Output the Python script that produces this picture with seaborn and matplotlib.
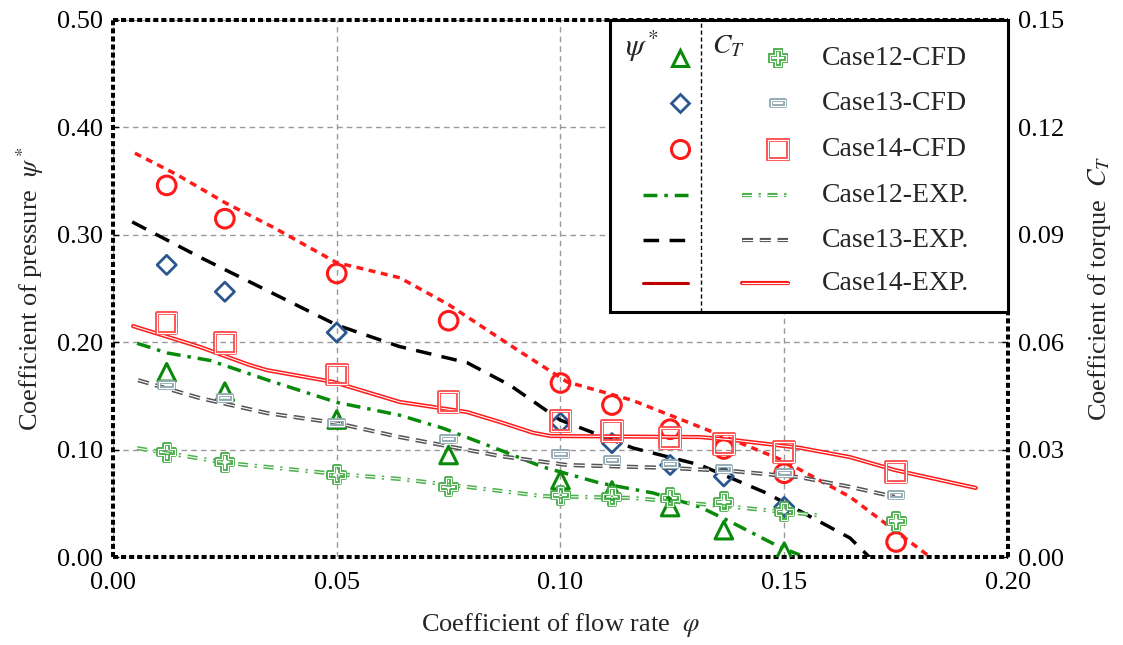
import numpy as np
import pandas as pd
import seaborn as sns
import matplotlib
matplotlib.use("Agg")
import matplotlib.pyplot as plt
import matplotlib.patheffects as pe
from matplotlib.path import Path
from matplotlib.patches import Rectangle
from matplotlib.lines import Line2D

# ---------------- data ----------------
phi_cfd = [0.012, 0.025, 0.05, 0.075, 0.10, 0.1115, 0.1245, 0.1365, 0.15, 0.175]

psi12_cfd = [0.172, 0.154, 0.128, 0.095, 0.0717, 0.062, 0.0465, 0.025, 0.005]
psi13_phi = [0.012, 0.025, 0.05, 0.10, 0.1115, 0.1245, 0.1365, 0.15]
psi13_cfd = [0.272, 0.247, 0.209, 0.125, 0.106, 0.0857, 0.075, 0.0466]
psi14_cfd = [0.346, 0.315, 0.264, 0.220, 0.162, 0.1415, 0.119, 0.1006, 0.078, 0.014]

ct12_cfd = [0.0293, 0.0265, 0.023, 0.0196, 0.0173, 0.0168, 0.0165, 0.0154, 0.0126, 0.010]
ct13_cfd = [0.048, 0.0445, 0.0375, 0.033, 0.0288, 0.0271, 0.026, 0.0246, 0.0235, 0.0173]
ct14_cfd = [0.0654, 0.0598, 0.051, 0.0433, 0.038, 0.0352, 0.0332, 0.0316, 0.0293, 0.0237]

psi12_exp_phi = [0.0054, 0.0121, 0.0217, 0.0344, 0.050, 0.0641, 0.0737, 0.0865, 0.0961,
                 0.1088, 0.1207, 0.1312, 0.1385, 0.149, 0.1535]
psi12_exp = [0.199, 0.190, 0.183, 0.165, 0.144, 0.132, 0.120, 0.0996, 0.0838,
             0.0689, 0.0596, 0.0466, 0.0317, 0.0093, 0.0019]

psi13_exp_phi = [0.0043, 0.0195, 0.05, 0.064, 0.0791, 0.0887, 0.0999, 0.1162, 0.1312,
                 0.146, 0.1647, 0.169]
psi13_exp = [0.312, 0.279, 0.216, 0.196, 0.181, 0.160, 0.1276, 0.1015, 0.0857,
             0.0596, 0.0177, 0.0]

psi14_exp_phi = [0.0049, 0.0143, 0.025, 0.0358, 0.050, 0.0552, 0.0641, 0.075, 0.0903,
                 0.1015, 0.116, 0.1385, 0.1497, 0.1647, 0.1826]
psi14_exp = [0.376, 0.356, 0.330, 0.307, 0.274, 0.269, 0.260, 0.235, 0.193,
             0.163, 0.146, 0.109, 0.090, 0.056, 0.0]

ct12_exp_phi = [0.0054, 0.0253, 0.05, 0.0641, 0.0791, 0.0961, 0.1162, 0.1385, 0.1573]
ct12_exp = [0.0304, 0.0263, 0.0232, 0.0218, 0.0196, 0.0170, 0.0165, 0.0140, 0.0117]

ct13_exp_phi = [0.0056, 0.0194, 0.0344, 0.05, 0.0641, 0.0865, 0.1015, 0.1238, 0.1385,
                0.1535, 0.1647, 0.1747]
ct13_exp = [0.0494, 0.0444, 0.0402, 0.0374, 0.0335, 0.0282, 0.0257, 0.0249, 0.0240,
            0.0223, 0.0196, 0.0168]

ct14_exp_phi = [0.0045, 0.0194, 0.0306, 0.0344, 0.0492, 0.0641, 0.0791, 0.0865, 0.0939,
                0.0977, 0.1312, 0.1385, 0.1535, 0.1647, 0.1747, 0.1928]
ct14_exp = [0.0645, 0.0587, 0.0536, 0.0522, 0.0489, 0.0433, 0.0405, 0.0377, 0.0347,
            0.0338, 0.0335, 0.0327, 0.0305, 0.0279, 0.0243, 0.0193]

x_ticks = [0.00, 0.05, 0.10, 0.15, 0.20]
psi_ticks = [0.0, 0.1, 0.2, 0.3, 0.4, 0.5]
ct_ticks = [0.0, 0.03, 0.06, 0.09, 0.12, 0.15]
legend_labels = ["Case12-CFD", "Case13-CFD", "Case14-CFD",
                 "Case12-EXP.", "Case13-EXP.", "Case14-EXP."]

# ---------------- style ----------------
sns.set_theme(style="white")
plt.rcParams["font.family"] = ["Liberation Serif", "DejaVu Serif"]
plt.rcParams["mathtext.fontset"] = "stix"

fig = plt.figure(figsize=(11.23, 6.45), dpi=100)
ax = fig.add_axes([0.1006, 0.1364, 0.797, 0.8326])
ax2 = ax.twinx()

GREEN = "#0a8a0a"
LGREEN = "#4cb04c"
BLUE = "#2b5690"
RED = "#ff1a1a"
LRED = "#ff5050"
GRAY13 = "#93aab3"


def dbl(color, outer=2.8, inner=0.8):
    return [pe.Stroke(linewidth=outer, foreground=color), pe.Stroke(linewidth=inner, foreground="white")]


rect_marker = Path([(-1, -0.42), (1, -0.42), (1, 0.42), (-1, 0.42), (-1, -0.42)],
                   [Path.MOVETO, Path.LINETO, Path.LINETO, Path.LINETO, Path.CLOSEPOLY])

# ---------------- lines ----------------
sns.lineplot(x=psi12_exp_phi, y=psi12_exp, ax=ax, color=GREEN, lw=2.5,
             linestyle=(0, (4, 2, 1, 2)), sort=False, estimator=None)
sns.lineplot(x=psi13_exp_phi, y=psi13_exp, ax=ax, color="black", lw=2.5,
             linestyle=(0, (4.5, 3)), sort=False, estimator=None)
sns.lineplot(x=psi14_exp_phi, y=psi14_exp, ax=ax, color=RED, lw=2.5,
             linestyle=(0, (2, 1.6)), sort=False, estimator=None)

sns.lineplot(x=ct12_exp_phi, y=ct12_exp, ax=ax2, color="white", lw=0.8,
             linestyle=(0, (9, 6, 2, 6)), sort=False, estimator=None,
             path_effects=[pe.Stroke(linewidth=3, foreground=LGREEN), pe.Normal()])
sns.lineplot(x=ct13_exp_phi, y=ct13_exp, ax=ax2, color="white", lw=0.8,
             linestyle=(0, (10, 6)), sort=False, estimator=None,
             path_effects=[pe.Stroke(linewidth=3, foreground="#555555"), pe.Normal()])
sns.lineplot(x=ct14_exp_phi, y=ct14_exp, ax=ax2, color="white", lw=0.8,
             sort=False, estimator=None,
             path_effects=[pe.Stroke(linewidth=3, foreground=RED), pe.Normal()])

# ---------------- markers ----------------
sns.scatterplot(x=phi_cfd[:9], y=psi12_cfd, ax=ax, marker="^", s=160,
                facecolors="none", edgecolor=GREEN, linewidth=2.2, zorder=5)
sns.scatterplot(x=psi13_phi, y=psi13_cfd, ax=ax, marker="D", s=95,
                facecolors="none", edgecolor=BLUE, linewidth=2.0, zorder=5)
sns.scatterplot(x=phi_cfd, y=psi14_cfd, ax=ax, marker="o", s=180,
                facecolors="none", edgecolor=RED, linewidth=2.2, zorder=5)

sns.scatterplot(x=phi_cfd, y=ct12_cfd, ax=ax2, marker="P", s=150,
                facecolors="none", edgecolor=LGREEN, linewidth=2.5, zorder=5,
                path_effects=dbl(LGREEN, 2.8, 0.8))
sns.scatterplot(x=phi_cfd, y=ct13_cfd, ax=ax2, marker=rect_marker, s=110,
                facecolors="none", edgecolor=GRAY13, linewidth=2.5, zorder=5,
                path_effects=dbl(GRAY13, 2.8, 0.8))
sns.scatterplot(x=phi_cfd, y=ct14_cfd, ax=ax2, marker="s", s=200,
                facecolors="none", edgecolor=LRED, linewidth=2.5, zorder=5,
                path_effects=dbl(LRED, 2.8, 0.8))

# ---------------- axes ----------------
ax.set_xlim(0, 0.20)
ax.set_ylim(0, 0.50)
ax2.set_ylim(0, 0.15)
ax.set_xticks(x_ticks)
ax.set_xticklabels([f"{v:.2f}" for v in x_ticks])
ax.set_yticks(psi_ticks)
ax.set_yticklabels([f"{v:.2f}" for v in psi_ticks])
ax2.set_yticks(ct_ticks)
ax2.set_yticklabels([f"{v:.2f}" for v in ct_ticks])

ax.grid(True, linestyle=(0, (4, 3)), color="#9a9a9a", lw=1)
ax.set_axisbelow(True)

for name, s in ax.spines.items():
    s.set_visible(name != "right")
for name, s in ax2.spines.items():
    s.set_visible(name == "right")
for a in (ax, ax2):
    for s in a.spines.values():
        s.set_color("black")
        s.set_linewidth(2.9)
        s.set_linestyle((0, (1.25, 0.75)))
        s.set_capstyle("butt")

ax.tick_params(axis="both", direction="in", length=4, width=1, labelsize=19,
               colors="black")
ax.tick_params(axis="x", pad=11)
ax.tick_params(axis="y", pad=7)
ax2.tick_params(axis="y", direction="in", length=4, width=1, labelsize=19,
                colors="black", pad=7)

ax.set_xlabel("Coefficient of flow rate  $\\varphi$", fontsize=19, labelpad=12)
ax.set_ylabel("Coefficient of pressure  $\\psi^*$", fontsize=19, labelpad=8)
ax2.set_ylabel("Coefficient of torque  $C_T$", fontsize=19, labelpad=16)

# ---------------- legend (drawn manually) ----------------
T = ax2.transAxes
box = Rectangle((0.5553, 0.456), 0.4447, 0.544, transform=T, facecolor="white",
                edgecolor="black", lw=2.2, zorder=20, clip_on=False)
ax2.add_patch(box)
ax2.add_line(Line2D([0.657, 0.657], [0.456, 1.0], transform=T, color="black",
                    lw=1, linestyle=(0, (3, 2)), zorder=21, clip_on=False))
ax2.text(0.572, 0.950, "$\\psi^*$", transform=T, fontsize=22, ha="left", va="center", zorder=22)
ax2.text(0.669, 0.950, "$C_T$", transform=T, fontsize=20, ha="left", va="center", zorder=22)

rows = [0.929, 0.845, 0.759, 0.674, 0.590, 0.510]
xm1, xm2, xt = 0.6335, 0.743, 0.792
l1 = [0.592, 0.643]
l2 = [0.703, 0.754]
kw = dict(transform=T, clip_on=False, zorder=22, ls="none")
ax2.plot([xm1], [rows[0]], marker="^", ms=12, mfc="none", mec=GREEN, mew=2.2, **kw)
ax2.plot([xm1], [rows[1]], marker="D", ms=9, mfc="none", mec=BLUE, mew=2.0, **kw)
ax2.plot([xm1], [rows[2]], marker="o", ms=13, mfc="none", mec=RED, mew=2.2, **kw)
ax2.plot([xm2], [rows[0]], marker="P", ms=12, mfc="none", mec=LGREEN, mew=2.5,
         path_effects=dbl(LGREEN, 2.8, 0.8), **kw)
ax2.plot([xm2], [rows[1]], marker=rect_marker, ms=10, mfc="none", mec=GRAY13, mew=2.5,
         path_effects=dbl(GRAY13, 2.8, 0.8), **kw)
ax2.plot([xm2], [rows[2]], marker="s", ms=14, mfc="none", mec=LRED, mew=2.5,
         path_effects=dbl(LRED, 2.8, 0.8), **kw)

kl = dict(transform=T, clip_on=False, zorder=22)
ax2.plot(l1, [rows[3]] * 2, color=GREEN, lw=2.5, linestyle=(0, (4, 2, 1, 2)), **kl)
ax2.plot(l1, [rows[4]] * 2, color="black", lw=2.5, linestyle=(0, (4.5, 3)), **kl)
ax2.plot(l1, [rows[5]] * 2, color="#c00000", lw=2.2, **kl)
ax2.plot(l2, [rows[3]] * 2, color="white", lw=0.8, linestyle=(0, (9, 6, 2, 6)),
         path_effects=[pe.Stroke(linewidth=3, foreground=LGREEN), pe.Normal()], **kl)
ax2.plot(l2, [rows[4]] * 2, color="white", lw=0.8, linestyle=(0, (10, 6)),
         path_effects=[pe.Stroke(linewidth=3, foreground="#555555"), pe.Normal()], **kl)
ax2.plot(l2, [rows[5]] * 2, color="white", lw=0.8,
         path_effects=[pe.Stroke(linewidth=3, foreground=RED), pe.Normal()], **kl)

for r, lab in zip(rows, legend_labels):
    ax2.text(xt, r, lab, transform=T, fontsize=20, ha="left", va="center", zorder=22)

fig.savefig("out.png", dpi=100)
